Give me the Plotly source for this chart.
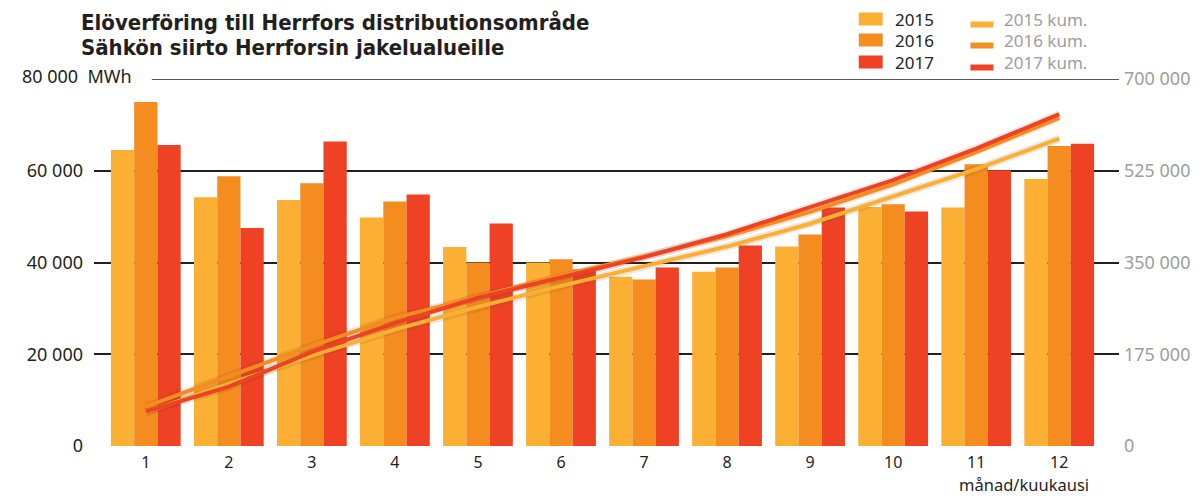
import plotly.graph_objects as go

# ---------------- data ----------------
months = list(range(1, 13))
month_labels = [str(m) for m in months]

years = ["2015", "2016", "2017"]
v2015 = [64500, 54200, 53600, 49800, 43400, 40000, 36900, 38000, 43500, 52100, 52000, 58200]
v2016 = [75000, 58800, 57300, 53300, 40000, 40700, 36300, 38900, 46100, 52700, 61400, 65400]
v2017 = [65600, 47500, 66400, 54800, 48500, 38500, 38900, 43700, 52000, 51100, 60100, 65900]

cum2015 = [64500, 118700, 172300, 222100, 265500, 305500, 342400, 380400, 423900, 476000, 528000, 586200]
cum2016 = [75000, 133800, 191100, 244400, 284400, 325100, 361400, 400300, 446400, 499100, 560500, 625900]
cum2017 = [65600, 113100, 179500, 234300, 282800, 321300, 360200, 403900, 455900, 507000, 567100, 633000]

left_ticks = [0, 20000, 40000, 60000]
left_tick_text = ["0", "20 000", "40 000", "60 000"]
left_top = 80000
left_top_text = "80 000  MWh"
right_ticks = [0, 175000, 350000, 525000, 700000]
right_tick_text = ["0", "175 000", "350 000", "525 000", "700 000"]

title_lines = ["Elöverföring till Herrfors distributionsområde",
               "Sähkön siirto Herrforsin jakelualueille"]
x_title = "månad/kuukausi"
legend_bar_names = ["2015", "2016", "2017"]
legend_line_names = ["2015 kum.", "2016 kum.", "2017 kum."]

# ---------------- style ----------------
colors = ["#FBAF33", "#F48C20", "#EF4124"]
W, H = 1202, 497
L, R, T, B = 94, 80, 79, 51
PW, PH = W - L - R, H - T - B
FONT = "Noto Sans, Open Sans, sans-serif"
DARK = "#231f20"
GRAY = "#9d9d9d"


def px(x):
    return (x - L) / PW


def py(y):
    return (H - B - y) / PH


fig = go.Figure()

for name, vals, c in zip(years, [v2015, v2016, v2017], colors):
    fig.add_trace(go.Bar(x=months, y=vals, name=name, marker=dict(color=c, line=dict(width=0)),
                         showlegend=False))

for name, vals, c in zip(legend_line_names, [cum2015, cum2016, cum2017], colors):
    fig.add_trace(go.Scatter(x=months, y=vals, yaxis="y2", mode="lines", name=name,
                             line=dict(color="rgba(110,70,30,0.13)", width=8),
                             showlegend=False, hoverinfo="skip"))
for name, vals, c in zip(legend_line_names, [cum2015, cum2016, cum2017], colors):
    fig.add_trace(go.Scatter(x=months, y=vals, yaxis="y2", mode="lines", name=name,
                             line=dict(color=c, width=4), showlegend=False))

shapes = []
# top gridline (shorter, starts after the MWh label)
shapes.append(dict(type="line", xref="paper", yref="y", x0=px(152), x1=1,
                   y0=left_top, y1=left_top, line=dict(color=DARK, width=1.5), layer="below"))

annotations = []
title_font = dict(family="DejaVu Sans Condensed, DejaVu Sans, sans-serif",
                  size=22, color=DARK, weight="bold")
for line, yc in zip(title_lines, [23, 48]):
    annotations.append(dict(text=line, xref="paper", yref="paper",
                            x=px(79), y=py(yc), xanchor="left", yanchor="middle", align="left",
                            showarrow=False, font=title_font))
annotations.append(dict(text=left_top_text, xref="paper", yref="y", x=px(20), y=left_top,
                        xanchor="left", yanchor="middle", yshift=3, showarrow=False,
                        font=dict(family=FONT, size=18, color=DARK)))
annotations.append(dict(text=x_title, xref="paper", yref="paper", x=px(1094), y=py(485),
                        xanchor="right", yanchor="middle", showarrow=False,
                        font=dict(family=FONT, size=16.5, color=DARK)))

# manual legend
rows_y = [19, 40, 62]
for i in range(3):
    shapes.append(dict(type="rect", xref="paper", yref="paper",
                       x0=px(861), x1=px(885), y0=py(rows_y[i] - 6.5), y1=py(rows_y[i] + 6.5),
                       fillcolor=colors[i], line=dict(width=0)))
    annotations.append(dict(text=legend_bar_names[i], xref="paper", yref="paper",
                            x=px(895), y=py(rows_y[i]), xanchor="left", yanchor="middle",
                            showarrow=False, font=dict(family=FONT, size=17, color=DARK)))
    shapes.append(dict(type="rect", xref="paper", yref="paper",
                       x0=px(973), x1=px(996), y0=py(rows_y[i] + 2.5), y1=py(rows_y[i] + 8.5),
                       fillcolor=colors[i], line=dict(width=0)))
    annotations.append(dict(text=legend_line_names[i], xref="paper", yref="paper",
                            x=px(1005), y=py(rows_y[i]), xanchor="left", yanchor="middle",
                            showarrow=False, font=dict(family=FONT, size=17, color=GRAY)))

fig.update_layout(
    width=W, height=H,
    margin=dict(l=L, r=R, t=T, b=B, pad=0),
    paper_bgcolor="white", plot_bgcolor="white",
    barmode="group", bargap=0.16, bargroupgap=0,
    showlegend=False,
    xaxis=dict(range=[0.376, 12.72], tickvals=months, ticktext=month_labels,
               showgrid=False, zeroline=False, showline=False, ticks="",
               ticklabelstandoff=5,
               tickfont=dict(family=FONT, size=16, color=DARK)),
    yaxis=dict(range=[0, left_top], tickvals=left_ticks, ticktext=left_tick_text,
               showgrid=True, gridcolor=DARK, gridwidth=1.5, zeroline=False,
               showline=False, ticks="", ticklabelstandoff=10,
               tickfont=dict(family=FONT, size=18, color=DARK)),
    yaxis2=dict(range=[0, 700000], tickvals=right_ticks, ticktext=right_tick_text,
                overlaying="y", side="right", showgrid=False, zeroline=False,
                showline=False, ticks="", ticklabelstandoff=4,
                tickfont=dict(family=FONT, size=18, color=GRAY)),
    shapes=shapes,
    annotations=annotations,
)

fig.write_html("out.html", config={"displayModeBar": False},
               post_script="document.body.style.margin='0';document.body.style.overflow='hidden';")
